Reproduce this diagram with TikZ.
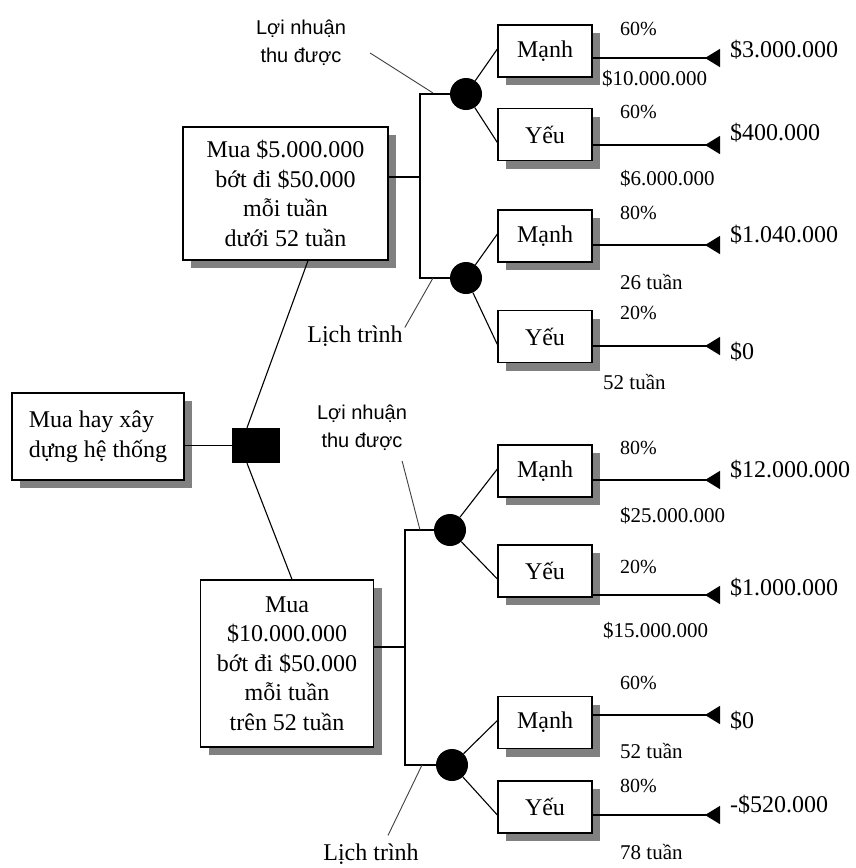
\documentclass[tikz,border=0pt]{standalone}
\usepackage{fontspec}
\setmainfont{Liberation Serif}
\newfontfamily\labelsans{Liberation Sans}
\usetikzlibrary{arrows.meta,shadows}
\begin{document}
\begin{tikzpicture}[x=1pt,y=-1pt,
  box/.style={draw=black,line width=1.3pt,fill=white,inner sep=0pt,align=center,
    drop shadow={shadow xshift=8pt,shadow yshift=-8pt,fill=black!50,opacity=1},
    font=\fontsize{24}{29.5}\selectfont},
  choice/.style={box,minimum width=94pt,minimum height=52pt},
  chance/.style={circle,fill=black,inner sep=0pt,minimum size=32pt},
  decision/.style={rectangle,fill=black,inner sep=0pt,minimum width=48pt,minimum height=35pt},
  lnk/.style={line width=1.1pt,black},
  leader/.style={line width=0.9pt,black!75},
  payoff/.style={line width=1.4pt,black,-{Triangle[reversed,length=15pt,width=18pt]}},
  amount/.style={anchor=west,inner sep=0pt,font=\fontsize{24}{28}\selectfont},
  prob/.style={anchor=west,inner sep=0pt,font=\fontsize{20}{24}\selectfont},
  remark/.style={anchor=west,inner sep=0pt,font=\fontsize{21}{24}\selectfont},
  topic/.style={align=center,inner sep=0pt,font=\labelsans\fontsize{20}{28}\selectfont},
  lich/.style={inner sep=0pt,font=\fontsize{24}{28}\selectfont},
]
\fill[white] (0,0) rectangle (855,868);
\useasboundingbox (0,0) rectangle (855,868);

% decision root
\node[box,minimum width=172pt,minimum height=87pt,align=left] (root) at (98,436.5)
  {Mua hay xây\\dựng hệ thống};
\node[decision] (sq) at (256,445.5) {};

% the two options
\node[box,minimum width=205pt,minimum height=133pt] (ub) at (285.5,193.5)
  {Mua \$5.000.000\\bớt đi \$50.000\\mỗi tuần\\dưới 52 tuần};
\node[box,minimum width=173pt,minimum height=167pt] (lb) at (287,663.5)
  {Mua\\\$10.000.000\\bớt đi \$50.000\\mỗi tuần\\trên 52 tuần};

% chance nodes
\node[chance] (c1) at (466,94) {};
\node[chance] (c2) at (466,278) {};
\node[chance] (c3) at (450,530) {};
\node[chance] (c4) at (452,765) {};

% outcomes
\node[choice] (m1) at (545,51) {Mạnh};
\node[choice] (y1) at (545,134.5) {Yếu};
\node[choice] (m2) at (545,236) {Mạnh};
\node[choice] (y2) at (545,336.5) {Yếu};
\node[choice] (m3) at (545,471) {Mạnh};
\node[choice] (y3) at (545,571) {Yếu};
\node[choice] (m4) at (545,722.5) {Mạnh};
\node[choice] (y4) at (545,807) {Yếu};

% payoff line ends
\coordinate (e1) at (720,58);
\coordinate (e2) at (720,145);
\coordinate (e3) at (720,245);
\coordinate (e4) at (720,346);
\coordinate (e5) at (720,480);
\coordinate (e6) at (720,595);
\coordinate (e7) at (720,715);
\coordinate (e8) at (720,815);

% junctions
\coordinate (v1t) at (420,94);
\coordinate (v1b) at (420,278);
\coordinate (j1) at (420,177);
\coordinate (v2t) at (405,530);
\coordinate (v2b) at (405,765);
\coordinate (j2) at (405,647);

% tree connectors
\draw[lnk] (root.east |- sq.west) -- (sq.west);
\draw[lnk] ([xshift=-9pt]sq.north) -- ([xshift=22.5pt]ub.south);
\draw[lnk] ([xshift=-9pt]sq.south) -- ([xshift=5pt]lb.north);
\draw[lnk] (ub.east |- j1) -- (j1);
\draw[lnk] (c1) -- (v1t) -- (v1b) -- (c2);
\draw[lnk] (lb.east |- j2) -- (j2);
\draw[lnk] (c3) -- (v2t) -- (v2b) -- (c4);

\draw[lnk] (c1) -- ([yshift=2pt]m1.west);
\draw[lnk] (c1) -- ([yshift=-8pt]y1.west);
\draw[lnk] (c2) -- ([yshift=2pt]m2.west);
\draw[lnk] (c2) -- ([yshift=-8pt]y2.west);
\draw[lnk] (c3) -- ([yshift=2pt]m3.west);
\draw[lnk] (c3) -- ([yshift=-8pt]y3.west);
\draw[lnk] (c4) -- ([yshift=2pt]m4.west);
\draw[lnk] (c4) -- ([yshift=-8pt]y4.west);

% payoff lines
\draw[payoff] (m1.east |- e1) -- (e1);
\draw[payoff] (y1.east |- e2) -- (e2);
\draw[payoff] (m2.east |- e3) -- (e3);
\draw[payoff] (y2.east |- e4) -- (e4);
\draw[payoff] (m3.east |- e5) -- (e5);
\draw[payoff] (y3.east |- e6) -- (e6);
\draw[payoff] (m4.east |- e7) -- (e7);
\draw[payoff] (y4.east |- e8) -- (e8);

% payoffs
\node[amount] (p1) at (730,50) {\$3.000.000};
\node[amount] (p2) at (730,133) {\$400.000};
\node[amount] (p3) at (730,235) {\$1.040.000};
\node[amount] (p4) at (730,352) {\$0};
\node[amount] (p5) at (730,470) {\$12.000.000};
\node[amount] (p6) at (730,588) {\$1.000.000};
\node[amount] (p7) at (730,721) {\$0};
\node[amount] (p8) at (730,805) {-\$520.000};

% probabilities
\node[prob] (q1) at (620,29) {60\%};
\node[prob] (q2) at (620,112) {60\%};
\node[prob] (q3) at (620,213) {80\%};
\node[prob] (q4) at (620,313) {20\%};
\node[prob] (q5) at (620,448) {80\%};
\node[prob] (q6) at (620,567) {20\%};
\node[prob] (q7) at (620,683) {60\%};
\node[prob] (q8) at (620,786) {80\%};

% revenue and duration notes
\node[remark] (r1) at (602,79) {\$10.000.000};
\node[remark] (r2) at (620,179) {\$6.000.000};
\node[remark] (r3) at (620,282) {26 tuần};
\node[remark] (r4) at (603,382) {52 tuần};
\node[remark] (r5) at (620,516) {\$25.000.000};
\node[remark] (r6) at (603,631) {\$15.000.000};
\node[remark] (r7) at (620,751) {52 tuần};
\node[remark] (r8) at (620,852) {78 tuần};

% uncertainty labels
\node[topic] (ln1) at (301,43) {Lợi nhuận\\thu được};
\node[topic] (ln2) at (362,428) {Lợi nhuận\\thu được};
\node[lich] (lt1) at (355,336) {Lịch trình};
\node[lich] (lt2) at (371,854) {Lịch trình};

\coordinate (k1) at (433,93);
\coordinate (k2) at (433,278);
\coordinate (k3) at (420,530);
\coordinate (k4) at (422,765);
\draw[leader] ([xshift=24pt,yshift=-10pt]ln1.east) -- (k1);
\draw[leader] ([xshift=2pt,yshift=-2pt]lt1.north east) -- (k2);
\draw[leader] ([xshift=-5pt,yshift=-10pt]ln2.south east) -- (k3);
\draw[leader] ([xshift=17pt,yshift=8pt]lt2.north) -- (k4);
\end{tikzpicture}
\end{document}
